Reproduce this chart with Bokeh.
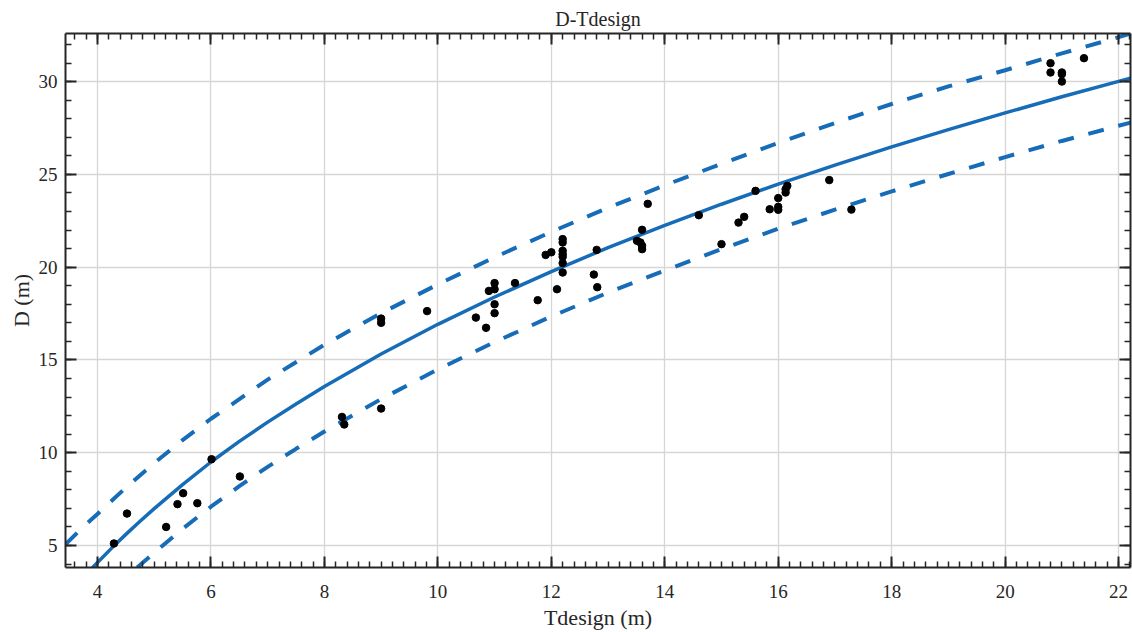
from bokeh.plotting import figure
from bokeh.models import Range1d, LinearAxis, SingleIntervalTicker, Grid, ColumnDataSource
from bokeh.embed import file_html
from bokeh.resources import INLINE

# Observed data (Tdesign, D)
T_obs = [4.29, 4.52, 5.21, 5.41, 5.51, 5.76, 6.01, 6.51, 8.31, 8.35, 9.0, 9.0, 9.0,
         9.81, 10.67, 10.85, 10.9, 11.0, 11.0, 11.0, 11.0, 11.36, 11.76, 11.9, 12.0,
         12.1, 12.2, 12.2, 12.2, 12.2, 12.2, 12.2, 12.2, 12.75, 12.8, 12.81, 13.51,
         13.57, 13.6, 13.6, 13.6, 13.7, 14.6, 15.0, 15.3, 15.4, 15.6, 15.85, 16.0,
         16.0, 16.0, 16.13, 16.13, 16.16, 16.9, 17.29, 20.8, 20.8, 21.0, 21.0, 21.0,
         21.39]
D_obs = [5.11, 6.72, 6.0, 7.23, 7.82, 7.28, 9.65, 8.72, 11.93, 11.52, 12.38, 17.0, 17.23,
         17.63, 17.28, 16.73, 18.72, 19.14, 18.81, 18.0, 17.52, 19.14, 18.22, 20.66, 20.8,
         18.81, 21.51, 21.33, 20.88, 20.7, 20.56, 20.22, 19.71, 19.6, 20.93, 18.92, 21.42,
         21.33, 22.01, 21.15, 20.97, 23.41, 22.8, 21.24, 22.4, 22.71, 24.11, 23.12, 23.72,
         23.25, 23.09, 24.2, 24.02, 24.38, 24.69, 23.1, 30.99, 30.49, 30.49, 30.4, 30.0,
         31.26]

# Fitted curve
T_fit = [3.88, 4.0, 4.25, 4.5, 4.75, 5.0, 5.5, 6.0, 6.5, 7.0, 7.5, 8.0, 9.0, 10.0,
         11.0, 12.0, 13.0, 14.0, 15.0, 16.0, 17.0, 18.0, 19.0, 20.0, 21.0, 22.0, 22.21]
D_fit = [3.70, 4.08, 4.86, 5.60, 6.31, 6.99, 8.28, 9.50, 10.61, 11.65, 12.63, 13.57,
         15.32, 16.92, 18.39, 19.76, 21.05, 22.25, 23.39, 24.47, 25.50, 26.48, 27.41,
         28.31, 29.18, 30.01, 30.18]

# Upper bound
T_up = [3.44, 3.75, 4.0, 4.5, 5.0, 5.5, 6.0, 7.0, 8.0, 9.0, 10.0, 11.0, 12.0, 13.0,
        14.0, 15.0, 16.0, 17.0, 18.0, 19.0, 20.0, 21.0, 22.0, 22.21]
D_up = [5.08, 6.01, 6.70, 8.12, 9.44, 10.68, 11.83, 13.94, 15.82, 17.52, 19.07, 20.53,
        21.90, 23.20, 24.41, 25.57, 26.69, 27.77, 28.79, 29.74, 30.61, 31.52, 32.39,
        32.59]

# Lower bound
T_lo = [4.70, 5.0, 5.5, 6.0, 6.5, 7.0, 7.5, 8.0, 9.0, 10.0, 11.0, 12.0, 13.0, 14.0,
        15.0, 16.0, 17.0, 18.0, 19.0, 20.0, 21.0, 22.0, 22.21]
D_lo = [3.815, 4.61, 5.90, 7.09, 8.20, 9.24, 10.21, 11.14, 12.89, 14.49, 15.96, 17.34,
        18.63, 19.82, 20.97, 22.07, 23.10, 24.08, 25.02, 25.93, 26.80, 27.62, 27.79]

FONT = "Liberation Serif"
DARK = "#262626"
BLUE = "#176CB8"

p = figure(width=1132, height=632, output_backend="svg", toolbar_location=None,
           x_range=Range1d(3.436, 22.21), y_range=Range1d(3.815, 32.59),
           x_axis_type=None, y_axis_type=None,
           min_border_left=65, min_border_right=2, min_border_top=33, min_border_bottom=65,
           title="D-Tdesign")
p.outline_line_color = None
p.background_fill_color = "white"
p.border_fill_color = "white"
p.title.text_font = FONT
p.title.text_font_size = "20px"
p.title.text_font_style = "normal"
p.title.text_color = DARK
p.title.align = "center"
p.title.standoff = 8

xt = SingleIntervalTicker(interval=2, num_minor_ticks=10)
yt = SingleIntervalTicker(interval=5, num_minor_ticks=5)

def style(ax, labels=True):
    ax.axis_line_color = DARK
    ax.axis_line_width = 2
    ax.major_tick_line_color = DARK
    ax.minor_tick_line_color = DARK
    ax.major_tick_line_width = 2
    ax.minor_tick_line_width = 1.5
    ax.major_tick_in = 11
    ax.major_tick_out = 0
    ax.minor_tick_in = 6
    ax.minor_tick_out = 0
    ax.major_label_text_font = FONT
    ax.major_label_text_color = DARK
    ax.axis_label_text_font = FONT
    ax.axis_label_text_font_style = "normal"
    ax.axis_label_text_color = DARK
    ax.axis_label_text_font_size = "22px"
    if labels:
        ax.major_label_text_font_size = "19px"
    else:
        ax.major_label_text_font_size = "0px"
        ax.major_label_standoff = 0

xb = LinearAxis(ticker=xt, axis_label="Tdesign (m)")
style(xb)
xb.major_label_standoff = 17
xb.axis_label_standoff = 4
p.add_layout(xb, "below")

yl = LinearAxis(ticker=yt, axis_label="D (m)")
style(yl)
yl.major_label_standoff = 8
yl.axis_label_standoff = 2
p.add_layout(yl, "left")

xa = LinearAxis(ticker=xt)
style(xa, labels=False)
p.add_layout(xa, "above")

yr = LinearAxis(ticker=yt)
style(yr, labels=False)
p.add_layout(yr, "right")

for dim, tk in ((0, xt), (1, yt)):
    g = Grid(dimension=dim, ticker=tk)
    g.grid_line_color = "#d6d6d6"
    g.grid_line_width = 1.3
    p.add_layout(g)

p.line(T_fit, D_fit, line_color=BLUE, line_width=3.5)
p.line(T_up, D_up, line_color=BLUE, line_width=4, line_dash="16 15")
p.line(T_lo, D_lo, line_color=BLUE, line_width=4, line_dash="16 15")

src = ColumnDataSource(data=dict(t=T_obs, d=D_obs))
p.scatter("t", "d", source=src, size=7.5, fill_color="black", line_color="black")

open("out.html", "w").write(file_html(p, INLINE))
